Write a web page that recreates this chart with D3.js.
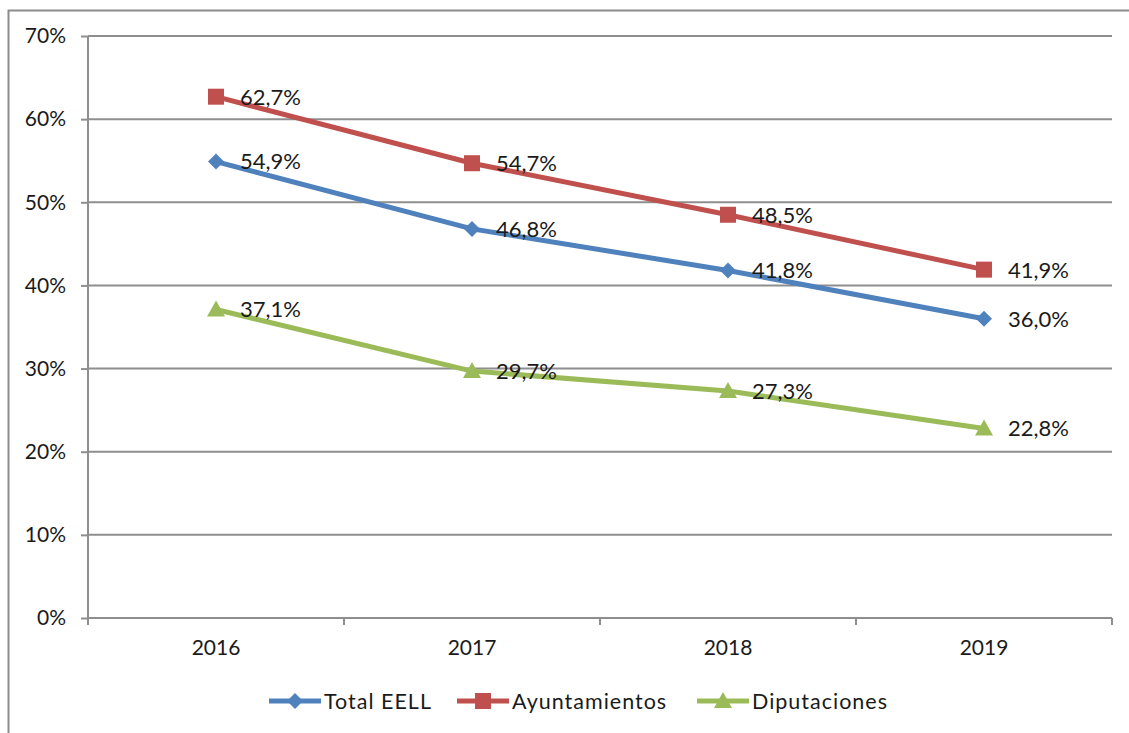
<!DOCTYPE html>
<html><head><meta charset="utf-8">
<script src="https://cdn.jsdelivr.net/npm/d3@7/dist/d3.min.js"></script>
<style>body{margin:0;background:#fff}svg{display:block}text{font-family:Lato,"Open Sans",sans-serif;fill:#1a1a1a}</style>
</head><body><svg id="c" width="1129" height="733"></svg>
<script>
const years = ["2016","2017","2018","2019"];
const totalEELL = [54.9, 46.8, 41.8, 36.0];
const ayuntamientos = [62.7, 54.7, 48.5, 41.9];
const diputaciones = [37.1, 29.7, 27.3, 22.8];
const yTicks = [0,10,20,30,40,50,60,70];
const seriesNames = ["Total EELL","Ayuntamientos","Diputaciones"];

const series = [
  {name: seriesNames[0], values: totalEELL, color: "#4F81BD", marker: "diamond"},
  {name: seriesNames[1], values: ayuntamientos, color: "#C0504D", marker: "square"},
  {name: seriesNames[2], values: diputaciones, color: "#9BBB59", marker: "triangle"}
];

const svg = d3.select("#c");
const L = 88, R = 1112, T = 36, B = 618;
const x = d3.scaleBand().domain(years).range([L, R]);
const y = d3.scaleLinear().domain([0,70]).range([B, T]);
const fmt = v => v.toFixed(1).replace(".", ",") + "%";

// outer frame (left & top)
svg.append("path").attr("d", "M8.5,733 L8.5,10.5 L1129,10.5").attr("fill","none").attr("stroke","#8c8c8c").attr("stroke-width",2);

// gridlines
svg.append("g").selectAll("line").data(yTicks.slice(1)).join("line")
  .attr("x1", L).attr("x2", R).attr("y1", d=>y(d)).attr("y2", d=>y(d))
  .attr("stroke","#8e8e8e").attr("stroke-width",2);

// y axis
const ya = svg.append("g").attr("transform", `translate(${L},0)`)
  .call(d3.axisLeft(y).tickValues(yTicks).tickFormat(d=>d+"%").tickSize(7).tickPadding(15));
ya.select(".domain").attr("stroke","#8e8e8e").attr("stroke-width",2).attr("d", `M0,${B}V${T}`);
ya.selectAll(".tick line").attr("stroke","#8e8e8e").attr("stroke-width",2);
ya.selectAll(".tick text").attr("font-size",21).attr("font-family","Lato").attr("fill","#1a1a1a");

// x axis
const xa = svg.append("g").attr("transform", `translate(0,${B})`)
  .call(d3.axisBottom(x).tickSize(0).tickPadding(22));
xa.select(".domain").remove();
xa.selectAll(".tick text").attr("font-size",21).attr("font-family","Lato").attr("fill","#1a1a1a");
svg.append("line").attr("x1",L).attr("x2",R).attr("y1",B).attr("y2",B).attr("stroke","#8e8e8e").attr("stroke-width",2);
const bounds = years.map(d=>x(d)).concat([R]);
svg.append("g").selectAll("line").data(bounds).join("line")
  .attr("x1",d=>d).attr("x2",d=>d).attr("y1",B).attr("y2",B+7)
  .attr("stroke","#8e8e8e").attr("stroke-width",2);

const cx = d => x(d) + x.bandwidth()/2;
const markerPath = (type) => {
  if (type==="diamond") return "M0,-8L8,0L0,8L-8,0Z";
  if (type==="square") return "M-8,-8H8V8H-8Z";
  return "M0,-9L9,7H-9Z";
};

const line = d3.line().x((d,i)=>cx(years[i])).y(d=>y(d));
series.forEach(s => {
  const g = svg.append("g");
  g.append("path").attr("d", line(s.values)).attr("fill","none").attr("stroke",s.color).attr("stroke-width",5).attr("stroke-linejoin","round");
  g.selectAll("path.m").data(s.values).join("path").attr("class","m")
    .attr("transform",(d,i)=>`translate(${cx(years[i])},${y(d)})`)
    .attr("d", markerPath(s.marker)).attr("fill", s.color);
  g.selectAll("text").data(s.values).join("text")
    .attr("x",(d,i)=>cx(years[i])+24).attr("y",d=>y(d)).attr("dy","0.36em")
    .attr("font-size",22).text(d=>fmt(d));
});

// legend
const legX = [269, 457, 697];
const lg = svg.append("g");
series.forEach((s,i)=>{
  const g = lg.append("g").attr("transform",`translate(${legX[i]},701)`);
  g.append("line").attr("x1",0).attr("x2",52).attr("stroke",s.color).attr("stroke-width",5);
  g.append("path").attr("transform","translate(26,0)").attr("d",markerPath(s.marker)).attr("fill",s.color);
  g.append("text").attr("x",55).attr("dy","0.36em").attr("font-size",21.5).attr("letter-spacing",1).text(s.name);
});
</script></body></html>
